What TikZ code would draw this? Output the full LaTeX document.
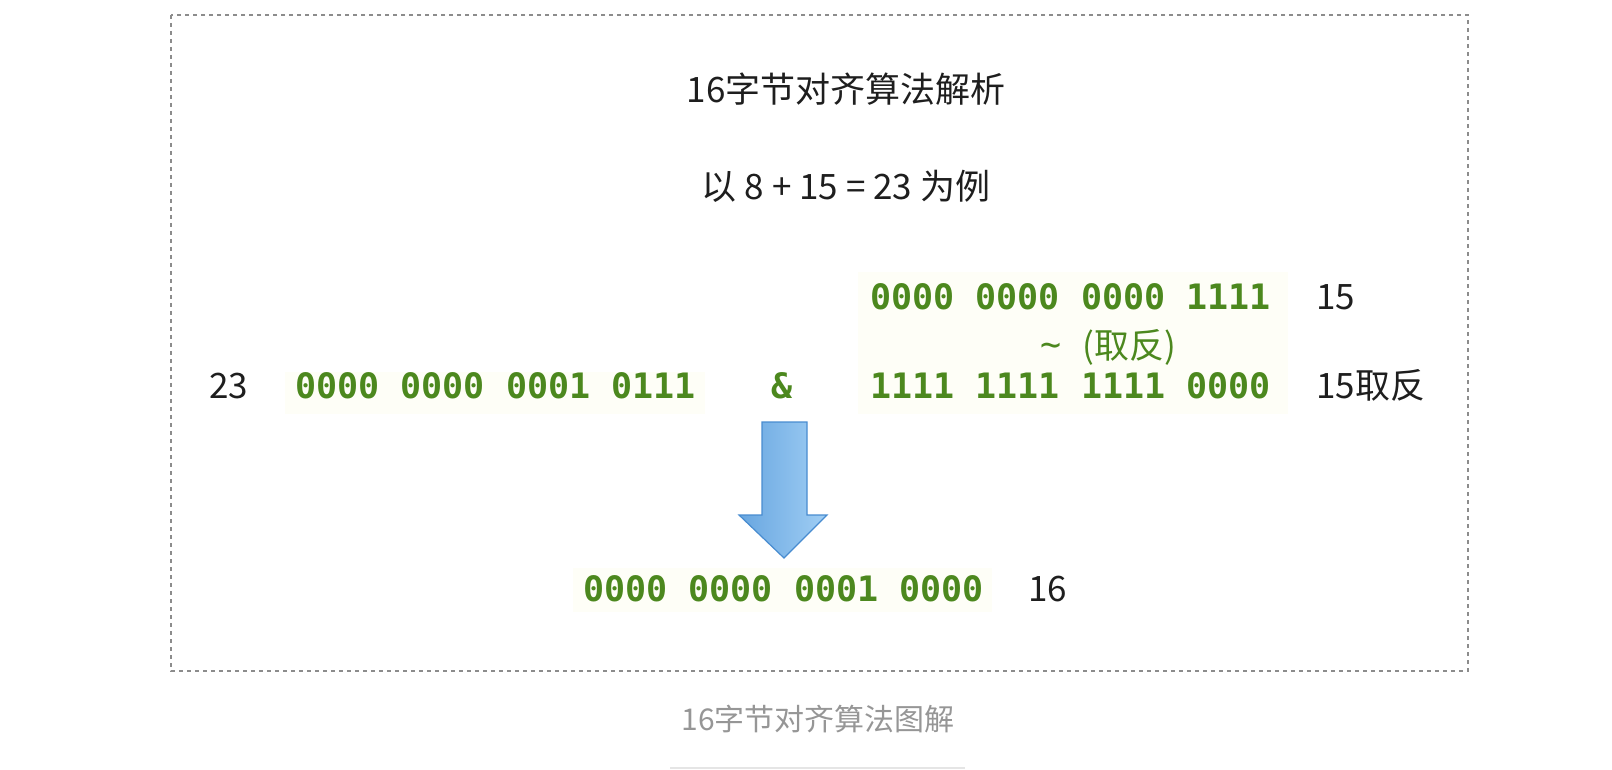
\documentclass[tikz,border=0pt]{standalone}
\usepackage{fontspec}
\newfontfamily\cjk{Noto Sans CJK SC}
\newfontfamily\codefont{DejaVu Sans Mono}

\begin{document}
\begin{tikzpicture}[x=0.5pt,y=-0.5pt,
  plain/.style={ink, font=\cjk\fontsize{17.5}{20}\selectfont, inner sep=0pt},
  bits/.style={codegreen, font=\codefont\bfseries\fontsize{17.5}{20}\selectfont, inner sep=0pt},
  note/.style={codegreen, font=\codefont\fontsize{17.5}{20}\selectfont, inner sep=0pt}]
  \definecolor{ink}{RGB}{30,30,30}
  \definecolor{codegreen}{RGB}{76,136,30}
  \definecolor{codebg}{RGB}{254,254,247}
  \definecolor{frame}{RGB}{140,140,140}
  \definecolor{arrowdark}{RGB}{104,166,224}
  \definecolor{arrowlight}{RGB}{160,206,244}
  \definecolor{arrowedge}{RGB}{72,140,208}
  \definecolor{caption}{RGB}{150,150,150}

  \useasboundingbox (0,0) rectangle (1612,770);
  \draw[frame, line width=0.75pt, dash pattern=on 2pt off 2pt] (171,15) rectangle (1468,671);

  % headings
  \node[plain, anchor=base] (title) at (846,103) {16字节对齐算法解析};
  \node[plain, anchor=base] (example) at (846,200) {以\ 8\ +\ 15\ =\ 23\ 为例};

  % faint code backgrounds
  \fill[codebg] (858,272) rectangle (1288,414);
  \fill[codebg] (285,372) rectangle (705,414);
  \fill[codebg] (573,568) rectangle (992,612);

  % operand 15 and its inverse
  \node[bits, anchor=base west] (fifteen) at (870,310) {0000 0000 0000 1111};
  \node[plain, anchor=base west] (fifteenlbl) at (1316,310) {15};
  \node[note, anchor=base] (invert) at (1108,358) {\raisebox{1pt}{\textasciitilde}\ {\cjk(取反)}};
  \node[bits, anchor=base west] (inverse) at (870,398) {1111 1111 1111 0000};
  \node[plain, anchor=base west] (inverselbl) at (1316,398) {15取反};

  % operand 23
  \node[plain, anchor=base west] (sumlbl) at (209,398) {23};
  \node[bits, anchor=base west] (sum) at (295,398) {0000 0000 0001 0111};
  \node[bits, anchor=base] (andop) at (782,398) {\&};

  % result
  \draw[arrowedge, line width=0.6pt, left color=arrowdark, right color=arrowlight]
    (762,422) -- (807,422) -- (807,515) -- (827,515) -- (784,558)
    -- (739,515) -- (762,515) -- cycle;
  \node[bits, anchor=base west] (result) at (583,601) {0000 0000 0001 0000};
  \node[plain, anchor=base west] (resultlbl) at (1028,601) {16};

  % caption
  \node[plain, text=caption, font=\cjk\fontsize{15}{18}\selectfont, anchor=base] (capline) at (818,730) {16字节对齐算法图解};
  \draw[gray!20, line width=1pt] (670,768) -- (965,768);
\end{tikzpicture}
\end{document}
